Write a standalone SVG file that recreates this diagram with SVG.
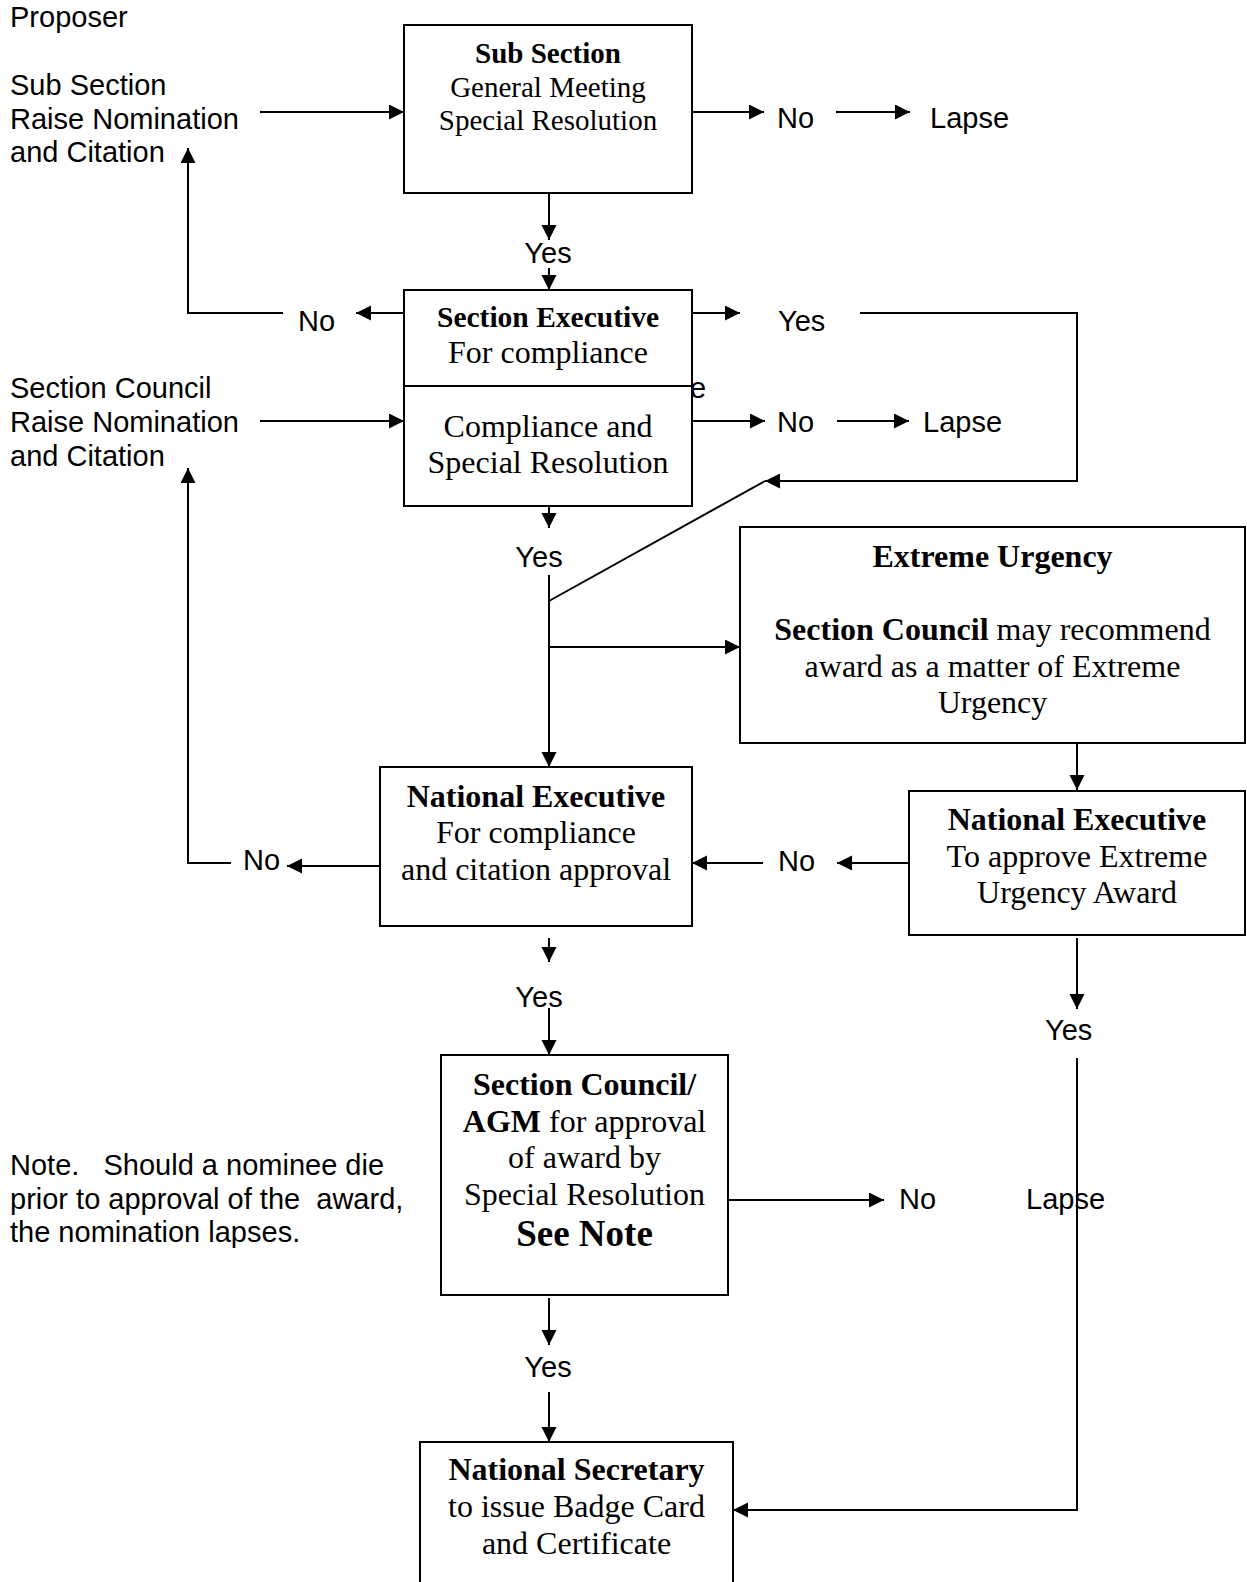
<svg xmlns="http://www.w3.org/2000/svg" width="1247" height="1582" viewBox="0 0 1247 1582">
<style>
.bx{fill:#fff;stroke:#000;stroke-width:2}
.ln{fill:none;stroke:#000;stroke-width:2}
.a{marker-end:url(#ah)}
.sa{font-family:"Liberation Sans",Arial,sans-serif;font-size:29px;fill:#000}
.t{font-family:"Liberation Serif","Times New Roman",serif;font-size:32px;fill:#000;text-anchor:middle}
.t29{font-size:29px}
.b{font-weight:bold}
.m{text-anchor:middle}
</style>
<defs>
<marker id="ah" markerUnits="userSpaceOnUse" markerWidth="16" markerHeight="16" refX="15" refY="7.5" orient="auto">
<path d="M0,0 L15,7.5 L0,15 z" fill="#000"/>
</marker>
</defs>
<rect width="1247" height="1582" fill="#fff"/>

<g id="labels">
<text class="sa" x="10" y="27">Proposer</text>
<text class="sa" x="10" y="95">Sub Section</text>
<text class="sa" x="10" y="129">Raise Nomination</text>
<text class="sa" x="10" y="162">and Citation</text>
<text class="sa" x="10" y="398">Section Council</text>
<text class="sa" x="10" y="432">Raise Nomination</text>
<text class="sa" x="10" y="466">and Citation</text>
<text class="sa" x="10" y="1175" xml:space="preserve">Note.   Should a nominee die</text>
<text class="sa" x="10" y="1209" xml:space="preserve">prior to approval of the  award,</text>
<text class="sa" x="10" y="1242">the nomination lapses.</text>
<text class="sa" x="777" y="128">No</text>
<text class="sa" x="930" y="128">Lapse</text>
<text class="sa m" x="548" y="263">Yes</text>
<text class="sa" x="298" y="331">No</text>
<text class="sa" x="778" y="331">Yes</text>
<text class="sa" x="690" y="398">e</text>
<text class="sa" x="777" y="432">No</text>
<text class="sa" x="923" y="432">Lapse</text>
<text class="sa m" x="539" y="567">Yes</text>
<text class="sa" x="243" y="870">No</text>
<text class="sa" x="778" y="871">No</text>
<text class="sa m" x="539" y="1007">Yes</text>
<text class="sa" x="1045" y="1040">Yes</text>
<text class="sa" x="899" y="1209">No</text>
<text class="sa" x="1026" y="1209">Lapse</text>
<text class="sa m" x="548" y="1377">Yes</text>
</g>

<g id="connectors">
<path class="ln a" d="M260,112 H404"/>
<path class="ln a" d="M692,112 H764"/>
<path class="ln a" d="M836,112 H910"/>
<path class="ln a" d="M549,193 V240"/>
<path class="ln a" d="M549,268 V290"/>
<path class="ln a" d="M404,313 H356"/>
<path class="ln a" d="M283,313 H188 V148"/>
<path class="ln a" d="M692,313 H740"/>
<path class="ln a" d="M860,313 H1077 V481 H765"/>
<path class="ln a" d="M260,421 H404"/>
<path class="ln a" d="M692,421 H765"/>
<path class="ln a" d="M837,421 H909"/>
<path class="ln a" d="M549,506 V528"/>
<path class="ln a" d="M549,575 V767"/>
<path class="ln a" d="M549,647 H740"/>
<path class="ln" d="M549,601 L765,481"/>
<path class="ln a" d="M1077,743 V790"/>
<path class="ln a" d="M909,863 H837"/>
<path class="ln a" d="M763,863 H692"/>
<path class="ln a" d="M380,866 H287"/>
<path class="ln a" d="M231,863 H188 V468"/>
<path class="ln a" d="M549,938 V962"/>
<path class="ln a" d="M549,1008 V1055"/>
<path class="ln a" d="M1077,938 V1009"/>
<path class="ln a" d="M1077,1058 V1510 H733"/>
<path class="ln a" d="M728,1200 H884"/>
<path class="ln a" d="M549,1298 V1345"/>
<path class="ln a" d="M549,1392 V1442"/>
</g>

<g id="sub-section">
<rect class="bx" x="404" y="25" width="288" height="168"/>
<text class="t t29 b" x="548" y="63">Sub Section</text>
<text class="t t29" x="548" y="97">General Meeting</text>
<text class="t t29" x="548" y="130">Special Resolution</text>
</g>

<g id="section-executive">
<rect class="bx" x="404" y="290" width="288" height="216"/>
<line class="ln" x1="404" y1="386" x2="692" y2="386"/>
<text class="t b" x="548" y="327" style="font-size:29.5px">Section Executive</text>
<text class="t" x="548" y="363">For compliance</text>
<text class="t" x="548" y="437">Compliance and</text>
<text class="t" x="548" y="473">Special Resolution</text>
</g>

<g id="extreme-urgency">
<rect class="bx" x="740" y="527" width="505" height="216"/>
<text class="t b" x="992.5" y="567">Extreme Urgency</text>
<text class="t" x="992.5" y="640"><tspan class="b">Section Council</tspan> may recommend</text>
<text class="t" x="992.5" y="677">award as a matter of Extreme</text>
<text class="t" x="992.5" y="713">Urgency</text>
</g>

<g id="national-executive-urgency">
<rect class="bx" x="909" y="791" width="336" height="144"/>
<text class="t b" x="1077" y="830">National Executive</text>
<text class="t" x="1077" y="867">To approve Extreme</text>
<text class="t" x="1077" y="903">Urgency Award</text>
</g>

<g id="national-executive">
<rect class="bx" x="380" y="767" width="312" height="159"/>
<text class="t b" x="536" y="807">National Executive</text>
<text class="t" x="536" y="843">For compliance</text>
<text class="t" x="536" y="880">and citation approval</text>
</g>

<g id="section-council-agm">
<rect class="bx" x="441" y="1055" width="287" height="240"/>
<text class="t b" x="584.5" y="1095">Section Council/</text>
<text class="t" x="584.5" y="1132"><tspan class="b">AGM</tspan> for approval</text>
<text class="t" x="584.5" y="1168">of award by</text>
<text class="t" x="584.5" y="1205">Special Resolution</text>
<text class="t b" x="584.5" y="1246" style="font-size:37px">See Note</text>
</g>

<g id="national-secretary">
<rect class="bx" x="420" y="1442" width="313" height="170"/>
<text class="t b" x="576.5" y="1480">National Secretary</text>
<text class="t" x="576.5" y="1517">to issue Badge Card</text>
<text class="t" x="576.5" y="1554">and Certificate</text>
</g>
</svg>
